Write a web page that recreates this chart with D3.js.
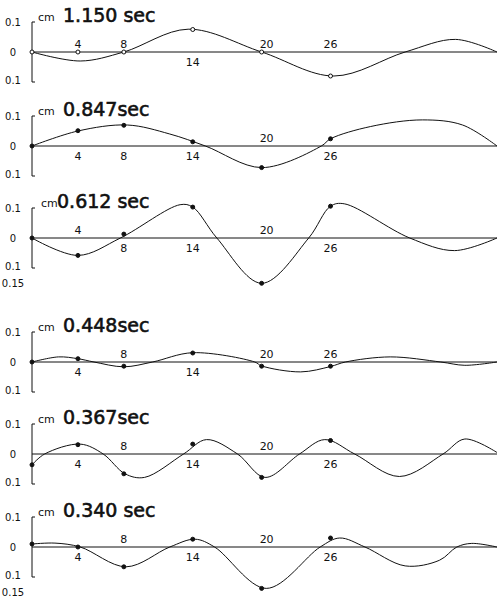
<!DOCTYPE html>
<html>
<head>
<meta charset="utf-8">
<script src="https://cdn.jsdelivr.net/npm/d3@7"></script>
<style>
  body { margin: 0; background: #fff; }
  svg { display: block; }
  text { font-family: "DejaVu Sans", sans-serif; fill: #111; }
</style>
</head>
<body>
<svg id="chart"></svg>
<script>
const NODES = [0, 4, 8, 14, 20, 26];
const PERIODS = ["1.150 sec", "0.847sec", "0.612 sec", "0.448sec", "0.367sec", "0.340 sec"];

// measured values at the nodes (cm)
const dots1150 = [0, 0, 0, 0.075, 0, -0.08];
const dots0847 = [0, 0.051, 0.069, 0.014, -0.072, 0.024];
const dots0612 = [0, -0.058, 0.013, 0.103, -0.151, 0.106];
const dots0448 = [0, 0.011, -0.014, 0.03, -0.014, -0.014];
const dots0367 = [-0.036, 0.031, -0.066, 0.033, -0.078, 0.045];
const dots0340 = [0.01, 0, -0.066, 0.026, -0.138, 0.03];

// mode shape curves [position, displacement]
const curve1150 = [[0, 0], [4.2, -0.03], [8, 0], [13.6, 0.076], [20, 0], [26.3, -0.08], [32.5, 0], [36.9, 0.042], [40.5, 0]];
const curve0847 = [[0, 0], [4, 0.05], [8.3, 0.07], [12, 0.04], [15.1, 0], [20, -0.072], [25.2, 0], [26, 0.024], [29.5, 0.065], [34, 0.087], [37.5, 0.07], [40.5, 0]];
const curve0612 = [[0, 0], [4, -0.058], [7.7, 0], [12.9, 0.111], [14, 0.103], [16.1, 0], [20, -0.151], [24.1, 0], [26, 0.106], [27.2, 0.114], [32.9, 0], [36.8, -0.042], [40.5, 0]];
const curve0448 = [[0, 0], [2.3, 0.017], [4, 0.011], [5.4, 0], [8, -0.016], [10.5, 0], [14, 0.031], [19.4, 0], [20, -0.013], [23.4, -0.033], [26, -0.015], [27.3, 0], [31.2, 0.017], [35.6, 0], [37.7, -0.011], [40.5, 0]];
const curve0367 = [[0, -0.036], [1.1, 0], [4.2, 0.033], [6.2, 0], [8.1, -0.066], [9.8, -0.078], [13.2, 0], [15.2, 0.048], [17.9, 0], [20.3, -0.078], [23.3, 0], [25.5, 0.048], [28.1, 0], [32, -0.075], [35.8, 0], [37.7, 0.05], [40.5, 0.005]];
const curve0340 = [[0, 0.01], [2, 0.013], [4.2, 0], [8.2, -0.066], [12, 0], [14.2, 0.026], [15.9, 0], [20.4, -0.138], [25.1, 0], [26.8, 0.03], [29, 0], [32.5, -0.063], [35.5, -0.044], [37, 0], [38.3, 0.012], [40.5, 0]];

// node label above (1) or below (-1) the base line
const side1150 = [0, 1, 1, -1, 1, 1];
const side0847 = [0, -1, -1, -1, 1, -1];
const side0612 = [0, 1, -1, -1, 1, -1];
const side0448 = [0, -1, 1, -1, 1, 1];
const side0367 = [0, -1, 1, -1, 1, -1];
const side0340 = [0, -1, 1, -1, 1, -1];

const panels = [
  { zero: 52, title: PERIODS[0], dots: dots1150, curve: curve1150, side: side1150, open: true },
  { zero: 146, title: PERIODS[1], dots: dots0847, curve: curve0847, side: side0847 },
  { zero: 238, title: PERIODS[2], dots: dots0612, curve: curve0612, side: side0612, extra: true, tx: 57, cx: 41 },
  { zero: 362, title: PERIODS[3], dots: dots0448, curve: curve0448, side: side0448 },
  { zero: 454, title: PERIODS[4], dots: dots0367, curve: curve0367, side: side0367 },
  { zero: 547, title: PERIODS[5], dots: dots0340, curve: curve0340, side: side0340, extra: true },
];

const width = 498;
const height = 607;
const svg = d3.select("#chart").attr("width", width).attr("height", height);

const x = d3.scaleLinear().domain([0, 40.5]).range([32, 497]);
const line = d3.line().curve(d3.curveCatmullRom.alpha(0.5));

panels.forEach((p) => {
  const y = d3.scaleLinear().domain([-0.1, 0.1]).range([p.zero + 30, p.zero - 30]);
  const g = svg.append("g");

  // vertical scale bracket
  g.append("path")
    .attr("d", `M${x(0) + 3},${y(0.1)}H${x(0)}V${y(-0.1)}H${x(0) + 3}`)
    .attr("fill", "none")
    .attr("stroke", "#111")
    .attr("stroke-width", 1);

  // base line
  g.append("line")
    .attr("x1", x(0)).attr("x2", x(40.5))
    .attr("y1", y(0)).attr("y2", y(0))
    .attr("stroke", "#111")
    .attr("stroke-width", 1);

  const yTicks = [[0.1, "0.1"], [0, "0"], [-0.1, "0.1"]];
  if (p.extra) yTicks.push([-0.15, "0.15"]);
  g.selectAll("text.yl")
    .data(yTicks)
    .join("text")
    .attr("class", "yl")
    .attr("x", 13)
    .attr("y", (d) => y(d[0]) + (d[0] === -0.1 ? -2 : 0))
    .attr("dy", "0.35em")
    .attr("text-anchor", "middle")
    .attr("font-size", 10)
    .text((d) => d[1]);

  // title
  g.append("text")
    .attr("x", p.cx || 38)
    .attr("y", y(0.1) - 1)
    .attr("font-size", 11)
    .text("cm");
  g.append("text")
    .attr("x", p.tx || 63)
    .attr("y", y(0.1))
    .attr("font-size", 19)
    .attr("stroke", "#111")
    .attr("stroke-width", 0.6)
    .text(p.title);

  // curve
  g.append("path")
    .attr("d", line(p.curve.map((d) => [x(d[0]), y(d[1])])))
    .attr("fill", "none")
    .attr("stroke", "#111")
    .attr("stroke-width", 1);

  // measuring points
  g.selectAll("circle")
    .data(NODES)
    .join("circle")
    .attr("cx", (d) => x(d))
    .attr("cy", (d, i) => y(p.dots[i]))
    .attr("r", 2)
    .attr("fill", p.open ? "#fff" : "#111")
    .attr("stroke", "#111")
    .attr("stroke-width", 1);

  // node labels
  g.selectAll("text.nl")
    .data(NODES.slice(1))
    .join("text")
    .attr("class", "nl")
    .attr("x", (d) => x(d) + (d === 20 ? 5 : 0))
    .attr("y", (d, i) => y(0) + (p.side[i + 1] > 0 ? -8 : 10))
    .attr("dy", "0.35em")
    .attr("text-anchor", "middle")
    .attr("font-size", 11)
    .text((d) => d);
});
</script>
</body>
</html>
